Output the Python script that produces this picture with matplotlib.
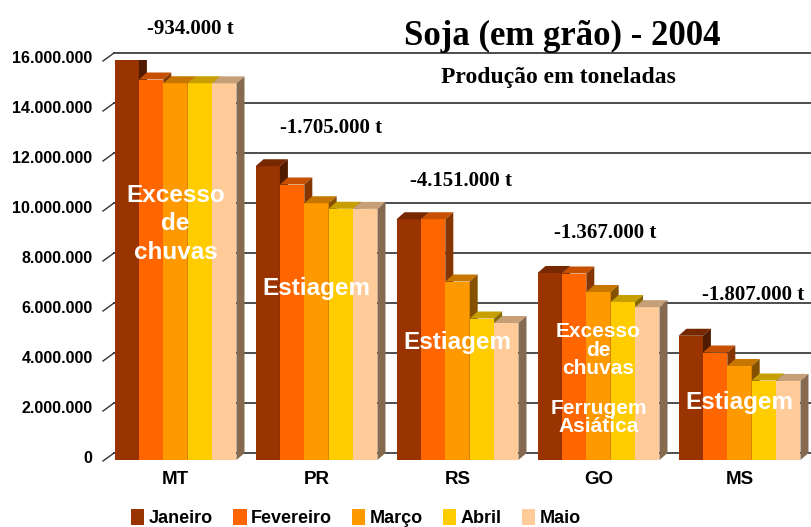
"""
    Soja (em grao) - 2004, producao por estado e mes de levantamento
"""
import numpy as np
import matplotlib.pyplot as plt
import matplotlib.transforms as mtransforms
from matplotlib.patches import Polygon, Patch

estados = ['MT', 'PR', 'RS', 'GO', 'MS']
meses = ['Janeiro', 'Fevereiro', 'Março', 'Abril', 'Maio']
cores = ['#993300', '#FF6600', '#FF9900', '#FFCC00', '#FFCC99']

# producao em toneladas
janeiro = [16.00e6, 11.75e6, 9.63e6, 7.48e6, 4.97e6]
fevereiro = [15.22e6, 11.02e6, 9.63e6, 7.46e6, 4.30e6]
marco = [15.07e6, 10.27e6, 7.14e6, 6.72e6, 3.76e6]
abril = [15.07e6, 10.05e6, 5.66e6, 6.32e6, 3.18e6]
maio = [15.066e6, 10.045e6, 5.48e6, 6.113e6, 3.163e6]
perdas = ['-934.000 t', '-1.705.000 t', '-4.151.000 t', '-1.367.000 t', '-1.807.000 t']
yticks = [0, 2e6, 4e6, 6e6, 8e6, 10e6, 12e6, 14e6, 16e6]
ylabels = ['0', '2.000.000', '4.000.000', '6.000.000', '8.000.000',
           '10.000.000', '12.000.000', '14.000.000', '16.000.000']

series = [janeiro, fevereiro, marco, abril, maio]

W, H = 811, 527
sans = 'Liberation Sans'
serif = 'Liberation Serif'

fig = plt.figure(figsize=(W / 100, H / 100), dpi=100)
ax = fig.add_axes([105 / W, (H - 460) / H, 705 / W, 400 / H])
ax.set_xlim(-0.5, 4.5)
ax.set_ylim(0, 16e6)
ax.set_frame_on(False)

# 3D offsets (data units)
px_x = 5.0 / 705
px_y = 16e6 / 400
dxw, dyw = 9 * px_x, 7 * px_y     # back wall
dxb, dyb = 8 * px_x, 7 * px_y     # bar depth

# gridlines on back wall + diagonal ticks
for v in yticks:
    ax.plot([-0.5 + dxw, 4.6], [v + dyw, v + dyw], color='#4d4d4d', lw=1.4,
            zorder=1, clip_on=False)
    ax.plot([-0.5 - 2 * px_x, -0.5 + dxw], [v - px_y, v + dyw], color='#333333',
            lw=1.0, zorder=1, clip_on=False)

# bars
bw = 0.173
x = np.arange(len(estados))
for i in range(len(estados)):
    for j, s in enumerate(series):
        x0 = x[i] + (j - 2.5) * bw
        h = s[i]
        c = np.array(plt.matplotlib.colors.to_rgb(cores[j]))
        ax.bar(x0, h, width=bw, align='edge', color=cores[j], zorder=3 + j * 3,
               linewidth=0)
        top = Polygon([[x0, h], [x0 + bw, h], [x0 + bw + dxb, h + dyb], [x0 + dxb, h + dyb]],
                      closed=True, facecolor=c * 0.78, edgecolor='none', zorder=4 + j * 3)
        side = Polygon([[x0 + bw, 0], [x0 + bw + dxb, dyb], [x0 + bw + dxb, h + dyb], [x0 + bw, h]],
                       closed=True, facecolor=c * 0.52, edgecolor='none', zorder=4 + j * 3)
        ax.add_patch(top)
        ax.add_patch(side)

ax.set_xticks(x)
ax.set_xticklabels(estados, fontsize=13.5, fontweight='bold', family=sans)
ax.set_yticks(yticks)
ax.set_yticklabels(ylabels, fontsize=11.5, fontweight='bold', family=sans)
ax.tick_params(axis='x', length=0, pad=8)
ax.tick_params(axis='y', length=0, pad=9)
for lab in ax.get_yticklabels():
    lab.set_transform(lab.get_transform() +
                      mtransforms.ScaledTranslation(0, 3 / 100, fig.dpi_scale_trans))

# perdas acima dos grupos (pixel positions)
perda_pos = [(190, 34, 'center'), (331, 133, 'center'), (461, 186, 'center'),
             (605, 238, 'center'), (702, 300, 'left')]
for txt, (px, py, ha) in zip(perdas, perda_pos):
    fig.text(px / W, 1 - py / H, txt, ha=ha, va='baseline', fontsize=15,
             fontweight='bold', family=serif)

# titulos
fig.text(562 / W, 1 - 45 / H, 'Soja (em grão) - 2004', ha='center', va='baseline',
         fontsize=25, fontweight='bold', family=serif)
fig.text(558 / W, 1 - 83 / H, 'Produção em toneladas', ha='center', va='baseline',
         fontsize=17, fontweight='bold', family=serif)

# causas
wkw = dict(color='white', fontweight='bold', family=sans, ha='center', va='center')
ax.text(0, 9.45e6, 'Excesso\nde\nchuvas', fontsize=17.5, linespacing=1.3, zorder=30, **wkw)
ax.text(1, 6.88e6, 'Estiagem', fontsize=17.5, zorder=30, **wkw)
ax.text(2, 4.72e6, 'Estiagem', fontsize=17.5, zorder=30, **wkw)
ax.text(3, 4.40e6, 'Excesso\nde\nchuvas', fontsize=15, linespacing=0.95, zorder=30, **wkw)
ax.text(3, 1.70e6, 'Ferrugem\nAsiática', fontsize=15, linespacing=0.95, zorder=30, **wkw)
ax.text(4, 2.28e6, 'Estiagem', fontsize=17.5, zorder=30, **wkw)

# legenda
handles = [Patch(facecolor=c, edgecolor='none') for c in cores]
fig.legend(handles, meses, loc='center', bbox_to_anchor=(356 / W, 1 - 518 / H),
           ncol=5, frameon=False, handlelength=0.75, handleheight=1.0,
           handletextpad=0.25, columnspacing=1.1, borderaxespad=0, borderpad=0,
           prop=dict(family=sans, weight='bold', size=13))

fig.savefig('out.png', dpi=100)
